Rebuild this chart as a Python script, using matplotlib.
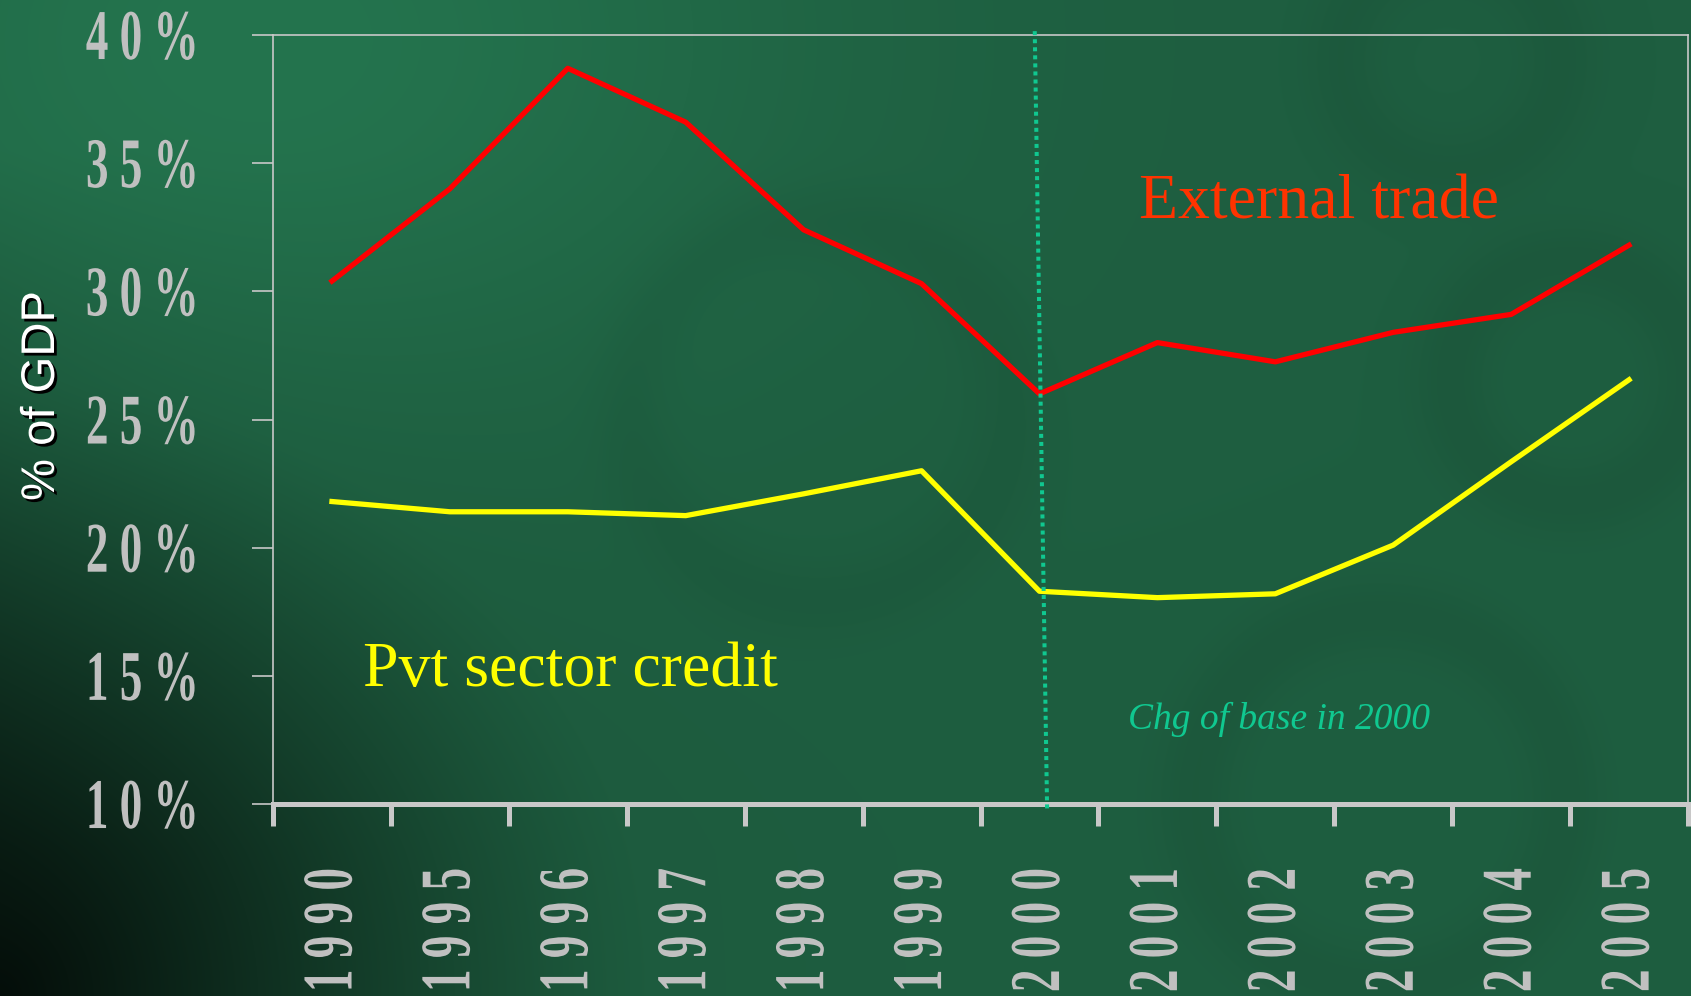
import numpy as np
import matplotlib
matplotlib.use("Agg")
import matplotlib.pyplot as plt
from matplotlib.patheffects import AbstractPathEffect, SimplePatchShadow, Normal
from matplotlib.transforms import Affine2D

# ---------------- data ----------------
years = ['1990', '1995', '1996', '1997', '1998', '1999',
         '2000', '2001', '2002', '2003', '2004', '2005']
external_trade = [30.4, 34.0, 38.7, 36.6, 32.4, 30.3, 26.0, 28.0, 27.25, 28.4, 29.1, 31.8]
pvt_credit = [21.8, 21.4, 21.4, 21.25, 22.1, 23.0, 18.3, 18.05, 18.2, 20.1, 23.35, 26.55]
y_ticks = [10, 15, 20, 25, 30, 35, 40]
base_change_year = '2000'

SERIF = ['Liberation Serif', 'DejaVu Serif']
SANS = ['Liberation Sans', 'DejaVu Sans']


class Stretch(AbstractPathEffect):
    """Draw glyphs taller than their layout size (tall, condensed look)."""
    def __init__(self, sy):
        super().__init__()
        self.sy = sy

    def draw_path(self, renderer, gc, tpath, affine, rgbFace=None):
        ext = tpath.get_extents()
        cy = (ext.y0 + ext.y1) / 2
        t = Affine2D().translate(0, -cy).scale(1, self.sy).translate(0, cy)
        renderer.draw_path(gc, tpath, t + affine, rgbFace)


def spaced(s):
    return ' '.join(s)


W, H, DPI = 1691, 996, 100
fig = plt.figure(figsize=(W / DPI, H / DPI), dpi=DPI)

# ---------------- background ----------------
yy, xx = np.mgrid[0:H, 0:W].astype(float)
img = np.ones((H, W, 3)) * np.array([30, 94, 64], float)
glow = np.exp(-(((xx - 260) / 520) ** 2 + ((yy - 40) / 380) ** 2))
img += glow[..., None] * np.array([6, 22, 14])
d = np.sqrt((xx / 650) ** 2 + ((H - yy) / 620) ** 2)
dark = np.clip(1 - d, 0, 1) ** 1.2
img *= (1 - 0.78 * dark)[..., None]
edge = np.exp(-xx / 260) * 0.35 * np.clip((yy - 150) / 700, 0, 1)
img *= (1 - edge)[..., None]
for cx, cy, r, s in [(1380, 800, 185, 0.06), (820, 410, 190, 0.045),
                     (1570, 380, 120, 0.06), (1450, 60, 110, 0.05)]:
    rr = np.sqrt((xx - cx) ** 2 + (yy - cy) ** 2)
    ring = np.exp(-((rr - r) / 40) ** 2)
    img *= (1 - s * ring)[..., None]
img = np.clip(img, 0, 255) / 255
bg = fig.add_axes([0, 0, 1, 1], zorder=-10)
bg.imshow(img, aspect='auto', interpolation='bilinear')
bg.axis('off')

# ---------------- main axes ----------------
ax = fig.add_axes([273 / W, 1 - 804 / H, (1688 - 273) / W, (804 - 35) / H])
ax.set_facecolor('none')
x = np.arange(len(years))
ax.plot(x, external_trade, color='#FF0000', lw=3.8, zorder=3)
ax.plot(x, pvt_credit, color='#FFFF00', lw=3.8, zorder=3)
ax.set_xlim(-0.5, len(years) - 0.5)
ax.set_ylim(min(y_ticks), max(y_ticks))

ib = years.index(base_change_year)
ax.plot([ib - 0.04, ib + 0.065], [max(y_ticks) + 0.15, min(y_ticks) - 0.25],
        color='#10C890', lw=2.9, dashes=(1.0, 1.0), dash_capstyle='butt',
        clip_on=False, zorder=4)

spine_col = '#C8C8C8'
for side in ['left', 'top', 'right']:
    ax.spines[side].set_color(spine_col)
    ax.spines[side].set_linewidth(1.2)
ax.spines['bottom'].set_color(spine_col)
ax.spines['bottom'].set_linewidth(3.6)

LABEL_SIZE = 32.5
ax.set_xticks(x, labels=[spaced(yr) for yr in years])
ax.set_xticks(np.arange(len(years) + 1) - 0.5, minor=True)
ax.tick_params(axis='x', which='major', length=0, pad=46, labelrotation=90,
               labelsize=LABEL_SIZE, labelcolor='#C0C0C0')
ax.tick_params(axis='x', which='minor', length=16, width=3.6, color=spine_col,
               direction='out')
ax.set_yticks(y_ticks, labels=[spaced(f'{v}%') for v in y_ticks])
ax.tick_params(axis='y', length=15, width=1.2, color=spine_col, pad=38.5,
               labelsize=LABEL_SIZE, labelcolor='#C0C0C0')

for lbl in ax.get_xticklabels() + ax.get_yticklabels():
    lbl.set_fontfamily(SERIF)
    lbl.set_fontweight('bold')
    lbl.set_path_effects([Stretch(1.58)])

ax.text(0.612, 0.762, 'External trade', transform=ax.transAxes, color='#FF3300',
        fontsize=46, family=SERIF, ha='left', va='baseline')
ax.text(0.0636, 0.1534, 'Pvt sector credit', transform=ax.transAxes, color='#FFFF00',
        fontsize=46, family=SERIF, ha='left', va='baseline')
ax.text(0.604, 0.0975, 'Chg of base in 2000', transform=ax.transAxes, color='#10C890',
        fontsize=27, family=SERIF, style='italic', ha='left', va='baseline')

fig.text(42 / W, 1 - 396 / H, '% of GDP', rotation=90, ha='center', va='center',
         color='white', fontsize=34, family=SANS,
         path_effects=[SimplePatchShadow(offset=(2, -2), shadow_rgbFace='black', alpha=1.0),
                       Normal()])

fig.savefig('out.png', dpi=DPI)
